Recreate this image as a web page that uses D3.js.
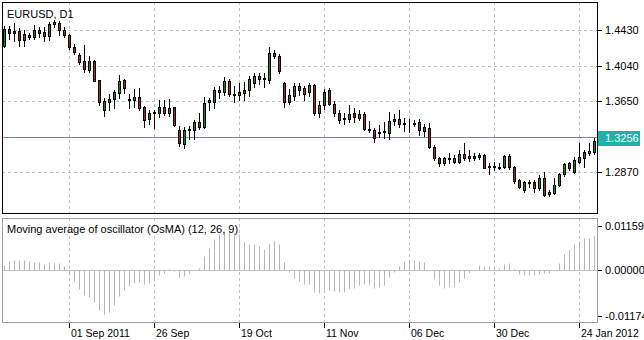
<!DOCTYPE html>
<meta charset="utf-8">
<html>
<script src="https://d3js.org/d3.v7.min.js"></script>
<style>
  body { margin: 0; background: #ffffff; }
  text { font-family: "Liberation Sans", Arial, sans-serif; font-size: 11px; }
</style>
<body>
<div id="my_dataviz"></div>
<script>

    // daily candles, 15 Aug 2011 .. 27 Jan 2012 (index based, no gaps)
    const opens = [1.4254,1.4441,1.4419,1.4414,1.4315,1.4375,1.4348,1.4425,1.4403,1.4359,
      1.4496,1.4512,1.4430,1.4370,1.4249,1.4156,1.4090,1.3991,1.4090,1.3882,
      1.3553,1.3644,1.3670,1.3738,1.3882,1.3674,1.3668,1.3696,1.3590,1.3451,
      1.3515,1.3517,1.3583,1.3517,1.3581,1.3334,1.3177,1.3329,1.3334,1.3425,
      1.3367,1.3636,1.3641,1.3750,1.3753,1.3871,1.3728,1.3717,1.3739,1.3767,
      1.3852,1.3922,1.3893,1.3882,1.4183,1.4145,1.3846,1.3641,1.3706,1.3816,
      1.3799,1.3753,1.3827,1.3520,1.3603,1.3772,1.3619,1.3523,1.3454,1.3451,
      1.3520,1.3465,1.3509,1.3350,1.3334,1.3306,1.3315,1.3306,1.3427,1.3454,
      1.3400,1.3388,1.3396,1.3418,1.3323,1.3359,1.3151,1.3030,1.2968,1.3016,
      1.3030,1.2986,1.3067,1.3030,1.3030,1.3041,1.3059,1.2931,1.2931,1.2920,
      1.2931,1.3052,1.2931,1.2785,1.2676,1.2749,1.2767,1.2694,1.2811,1.2628,
      1.2639,1.2730,1.2848,1.2968,1.2870,1.2986,1.3023,1.3078,1.3095]
    const highs = [1.4474,1.4474,1.4507,1.4452,1.4430,1.4392,1.4490,1.4468,1.4463,1.4523,
      1.4545,1.4534,1.4463,1.4386,1.4276,1.4183,1.4266,1.4145,1.4096,1.3887,
      1.3685,1.3723,1.3772,1.3936,1.3889,1.3728,1.3783,1.3794,1.3597,1.3553,
      1.3548,1.3663,1.3663,1.3674,1.3586,1.3377,1.3372,1.3382,1.3448,1.3520,
      1.3696,1.3690,1.3810,1.3821,1.3911,1.3898,1.3821,1.3854,1.3863,1.3926,
      1.3955,1.3958,1.3964,1.4247,1.4211,1.4170,1.3863,1.3780,1.3854,1.3849,
      1.3816,1.3852,1.3838,1.3652,1.3783,1.3797,1.3652,1.3548,1.3515,1.3608,
      1.3571,1.3553,1.3531,1.3432,1.3352,1.3388,1.3421,1.3531,1.3509,1.3553,
      1.3468,1.3454,1.3443,1.3454,1.3396,1.3407,1.3169,1.3041,1.3041,1.3078,
      1.3059,1.3114,1.3188,1.3114,1.3078,1.3078,1.3067,1.2968,1.2986,1.2968,
      1.3059,1.3067,1.2942,1.2796,1.2774,1.2785,1.2785,1.2840,1.2870,1.2676,
      1.2804,1.2859,1.2968,1.2986,1.3041,1.3188,1.3114,1.3188,1.3249]
    const lows = [1.4243,1.4331,1.4309,1.4254,1.4254,1.4331,1.4331,1.4353,1.4309,1.4315,
      1.4463,1.4370,1.4353,1.4221,1.4167,1.4052,1.3972,1.3972,1.3866,1.3608,
      1.3482,1.3553,1.3575,1.3688,1.3743,1.3571,1.3586,1.3553,1.3370,1.3399,
      1.3352,1.3476,1.3498,1.3487,1.3382,1.3158,1.3133,1.3235,1.3235,1.3350,
      1.3352,1.3558,1.3580,1.3681,1.3717,1.3701,1.3644,1.3663,1.3663,1.3706,
      1.3805,1.3841,1.3800,1.3846,1.4128,1.3958,1.3590,1.3619,1.3663,1.3717,
      1.3663,1.3706,1.3503,1.3476,1.3564,1.3603,1.3487,1.3410,1.3399,1.3421,
      1.3416,1.3443,1.3334,1.3315,1.3205,1.3257,1.3251,1.3235,1.3388,1.3370,
      1.3323,1.3315,1.3381,1.3279,1.3271,1.3140,1.3005,1.2942,1.2950,1.2968,
      1.2968,1.2968,1.3005,1.2994,1.3005,1.3016,1.2913,1.2848,1.2895,1.2906,
      1.2920,1.2906,1.2758,1.2694,1.2657,1.2712,1.2650,1.2676,1.2613,1.2613,
      1.2628,1.2722,1.2833,1.2895,1.2859,1.2968,1.2931,1.3059,1.3067]
    const closes = [1.4441,1.4397,1.4397,1.4315,1.4381,1.4348,1.4430,1.4397,1.4359,1.4496,
      1.4518,1.4425,1.4370,1.4249,1.4186,1.4082,1.3997,1.4090,1.3871,1.3641,
      1.3652,1.3674,1.3745,1.3871,1.3791,1.3663,1.3696,1.3575,1.3443,1.3517,
      1.3526,1.3586,1.3517,1.3575,1.3388,1.3188,1.3330,1.3345,1.3425,1.3367,
      1.3630,1.3658,1.3772,1.3772,1.3876,1.3723,1.3717,1.3753,1.3777,1.3893,
      1.3931,1.3893,1.3904,1.4181,1.4150,1.3980,1.3644,1.3717,1.3816,1.3772,
      1.3728,1.3827,1.3517,1.3608,1.3745,1.3622,1.3517,1.3446,1.3465,1.3512,
      1.3473,1.3512,1.3350,1.3334,1.3243,1.3317,1.3326,1.3432,1.3449,1.3396,
      1.3405,1.3394,1.3410,1.3334,1.3370,1.3151,1.3023,1.2968,1.3023,1.3030,
      1.2986,1.3067,1.3030,1.3048,1.3048,1.3059,1.2920,1.2942,1.2942,1.2931,
      1.3052,1.2931,1.2774,1.2712,1.2760,1.2760,1.2694,1.2804,1.2621,1.2650,
      1.2730,1.2848,1.2957,1.2920,1.3005,1.3041,1.3095,1.3103,1.3213]

    // OsMA (12, 26, 9) histogram
    const osma = [0.00138,0.00253,0.00286,0.00268,0.00268,0.00242,0.00226,0.00226,0.00182,0.00216,
      0.00208,0.00200,0.00112,-0.00122,-0.00268,-0.00469,-0.00643,-0.00703,-0.00815,-0.01034,
      -0.01120,-0.01075,-0.00904,-0.00669,-0.00495,-0.00409,-0.00320,-0.00294,-0.00339,-0.00320,
      -0.00268,-0.00122,-0.00078,0.00052,-0.00010,-0.00164,-0.00148,-0.00096,0.00026,0.00078,
      0.00372,0.00573,0.00833,0.00945,0.01008,0.01034,0.00982,0.00945,0.00747,0.00685,
      0.00685,0.00633,0.00547,0.00721,0.00773,0.00703,0.00226,-0.00034,-0.00208,-0.00268,
      -0.00357,-0.00357,-0.00555,-0.00581,-0.00469,-0.00495,-0.00529,-0.00555,-0.00555,-0.00469,
      -0.00443,-0.00383,-0.00357,-0.00383,-0.00443,-0.00424,-0.00383,-0.00164,-0.00034,0.00112,
      0.00247,0.00286,0.00273,0.00242,0.00216,0.00005,-0.00234,-0.00365,-0.00450,-0.00424,
      -0.00424,-0.00305,-0.00190,-0.00078,0.00008,0.00156,0.00112,0.00112,0.00096,0.00070,
      0.00182,0.00200,0.00044,-0.00104,-0.00130,-0.00130,-0.00130,-0.00104,-0.00078,-0.00078,
      0.00005,0.00200,0.00435,0.00565,0.00695,0.00763,0.00851,0.00851,0.00937]

    // axis labels
    const dateIndex = [13, 30, 47, 64, 81, 98, 115]
    const dateLabels = ["01 Sep 2011", "26 Sep", "19 Oct", "11 Nov", "06 Dec", "30 Dec", "24 Jan 2012"]
    const priceTicks = [1.4430, 1.4040, 1.3650, 1.3260, 1.2870]
    const bidPrice = 1.3256
    const oscTicks = [0.01159, 0.00000, -0.01174]
    const symbolTitle = "EURUSD, D1"
    const oscTitle = "Moving average of oscillator (OsMA) (12, 26, 9)"

    // layout
    const width = 644, height = 340
    const main = {left: 2, right: 597, top: 2, bottom: 213}
    const sub = {left: 2, right: 597, top: 218, bottom: 322}

    const bullColor = "#2b7a2b", bearColor = "#a3282e", bidColor = "#20b2aa"
    const gridColor = "#c0c0c0"

    const svg = d3.select("#my_dataviz")
      .append("svg")
        .attr("width", width)
        .attr("height", height)

    const x = d3.scaleLinear().domain([0, opens.length - 1]).range([4, 594])
    const y = d3.scaleLinear().domain([1.24238, 1.47370]).range([main.bottom, main.top])
    const yOsc = d3.scaleLinear().domain([-0.01341, 0.01367]).range([sub.bottom, sub.top])

    const px = v => Math.round(v) + 0.5
    const bidY = px(y(bidPrice))

    // grid: vertical dashed lines at each date, in both windows
    const vgrid = svg.append("g")
    dateIndex.forEach(function(i) {
      [main, sub].forEach(function(w) {
        vgrid.append("line")
          .attr("x1", px(x(i))).attr("x2", px(x(i)))
          .attr("y1", w.top).attr("y2", w.bottom)
          .attr("stroke", gridColor)
          .attr("stroke-dasharray", "3,3")
      })
    })

    // horizontal dashed grid in the price window (the one under the bid line is hidden)
    svg.append("g")
      .selectAll("line")
      .data(priceTicks.filter(d => Math.abs(y(d) - bidY) > 3))
      .join("line")
        .attr("x1", main.left).attr("x2", main.right)
        .attr("y1", d => px(y(d))).attr("y2", d => px(y(d)))
        .attr("stroke", gridColor)
        .attr("stroke-dasharray", "3,3")

    // zero level in the oscillator window
    svg.append("line")
      .attr("x1", sub.left).attr("x2", sub.right)
      .attr("y1", px(yOsc(0))).attr("y2", px(yOsc(0)))
      .attr("stroke", gridColor)

    // bid line
    svg.append("line")
      .attr("x1", main.left).attr("x2", main.right)
      .attr("y1", bidY).attr("y2", bidY)
      .attr("stroke", bidColor)

    // candles
    const idx = d3.range(opens.length)
    const candles = svg.append("g")
    candles.selectAll("line")
      .data(idx)
      .join("line")
        .attr("x1", i => px(x(i))).attr("x2", i => px(x(i)))
        .attr("y1", i => Math.round(y(highs[i]))).attr("y2", i => Math.round(y(lows[i])) + 1)
        .attr("stroke", "#000")
    candles.selectAll("rect")
      .data(idx)
      .join("rect")
        .attr("x", i => Math.round(x(i)) - 0.5)
        .attr("y", i => px(y(Math.max(opens[i], closes[i]))))
        .attr("width", 2)
        .attr("height", i => Math.max(Math.round(y(Math.min(opens[i], closes[i]))) - Math.round(y(Math.max(opens[i], closes[i]))), 0))
        .attr("fill", i => closes[i] >= opens[i] ? bullColor : bearColor)
        .attr("stroke", "#000")

    // OsMA histogram
    svg.append("g")
      .selectAll("line")
      .data(idx)
      .join("line")
        .attr("x1", i => px(x(i))).attr("x2", i => px(x(i)))
        .attr("y1", px(yOsc(0)))
        .attr("y2", i => Math.round(yOsc(osma[i])) + 0.5)
        .attr("stroke", "#b8b8b8")

    // frames
    svg.append("rect")
      .attr("x", main.left + 0.5).attr("y", main.top + 0.5)
      .attr("width", main.right - main.left).attr("height", main.bottom - main.top)
      .attr("fill", "none").attr("stroke", "#000")
    svg.append("rect")
      .attr("x", sub.left + 0.5).attr("y", sub.top + 0.5)
      .attr("width", sub.right - sub.left).attr("height", sub.bottom - sub.top)
      .attr("fill", "none").attr("stroke", "#a0a0a0")

    // price scale labels
    const priceAxis = svg.append("g")
    priceTicks.filter(d => Math.abs(y(d) - bidY) > 9).forEach(function(d) {
      priceAxis.append("line")
        .attr("x1", main.right + 1).attr("x2", main.right + 5)
        .attr("y1", px(y(d))).attr("y2", px(y(d)))
        .attr("stroke", "#000")
      priceAxis.append("text")
        .attr("x", main.right + 8).attr("y", y(d) + 4)
        .text(d.toFixed(4))
    })
    priceAxis.append("rect")
      .attr("x", main.right + 1).attr("y", Math.round(bidY) - 7)
      .attr("width", 42).attr("height", 15)
      .attr("fill", bidColor)
    priceAxis.append("text")
      .attr("x", main.right + 8).attr("y", bidY + 4)
      .attr("fill", "#fff")
      .text(bidPrice.toFixed(4))

    // oscillator scale labels (the bottom one runs off the window, as in MT4)
    oscTicks.forEach(function(d) {
      priceAxis.append("line")
        .attr("x1", sub.right + 1).attr("x2", sub.right + 5)
        .attr("y1", px(yOsc(d))).attr("y2", px(yOsc(d)))
        .attr("stroke", "#000")
      priceAxis.append("text")
        .attr("x", sub.right + 8).attr("y", yOsc(d) + 4)
        .text(d.toFixed(5))
    })

    // time scale
    dateIndex.forEach(function(i, k) {
      svg.append("line")
        .attr("x1", px(x(i))).attr("x2", px(x(i)))
        .attr("y1", sub.bottom + 1).attr("y2", sub.bottom + 6)
        .attr("stroke", "#000")
      svg.append("text")
        .attr("x", Math.round(x(i)) + 2).attr("y", 337)
        .style("font-size", "10.5px")
        .text(dateLabels[k])
    })

    // titles
    svg.append("text").attr("x", 7).attr("y", 18).text(symbolTitle)
    svg.append("text").attr("x", 7).attr("y", 233).text(oscTitle)

</script>
</body>
</html>
